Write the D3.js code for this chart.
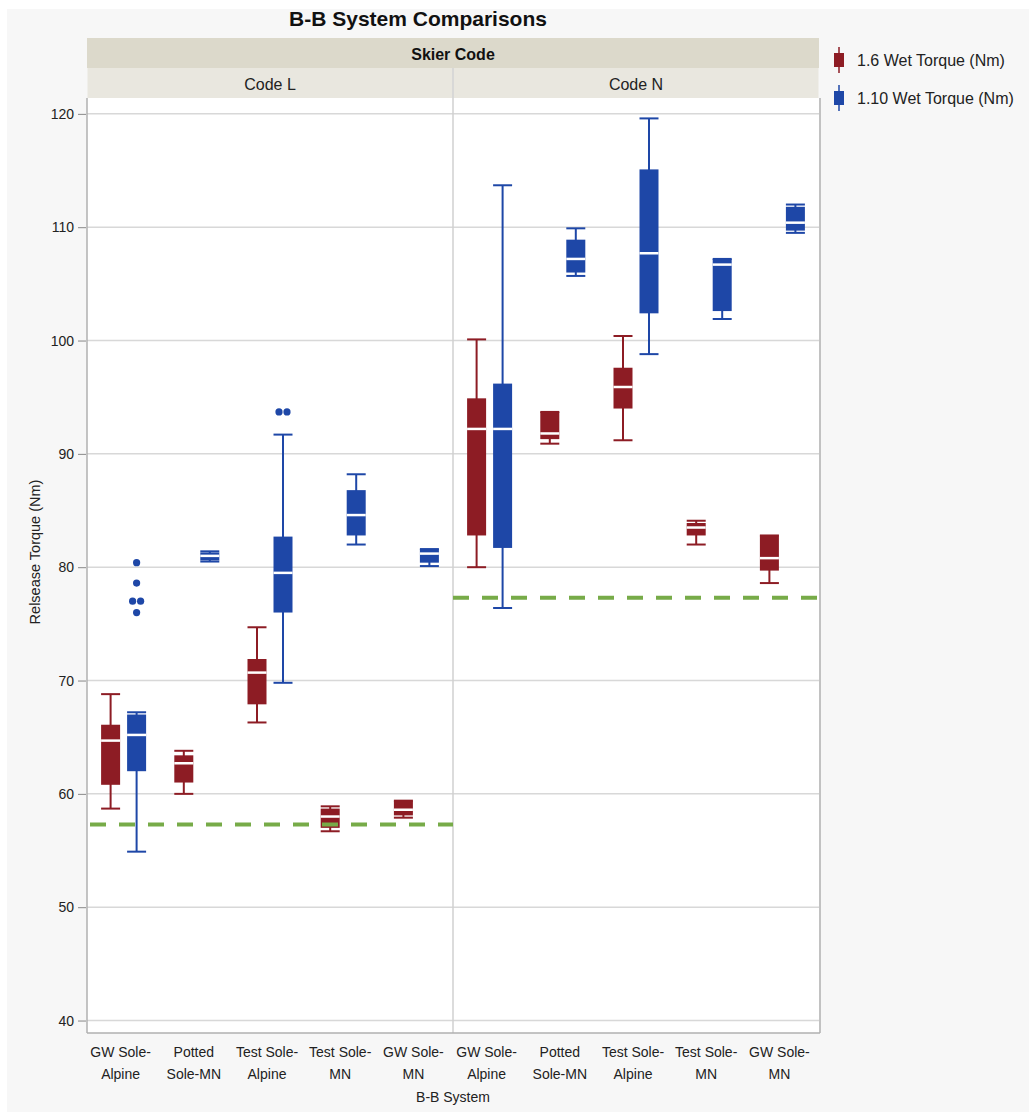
<!DOCTYPE html>
<html>
<head>
<meta charset="utf-8">
<script src="https://cdn.jsdelivr.net/npm/d3@7"></script>
<style>
  html, body { margin: 0; padding: 0; background: #ffffff; }
  svg { display: block; font-family: "Liberation Sans", Arial, sans-serif; }
</style>
</head>
<body>
<svg id="chart" width="1029" height="1113"></svg>
<script>
// panels and categories
const panels = ["Code L", "Code N"];
const categories = ["GW Sole-Alpine", "Potted Sole-MN", "Test Sole-Alpine", "Test Sole-MN", "GW Sole-MN"];
const catLines = [["GW Sole-", "Alpine"], ["Potted", "Sole-MN"], ["Test Sole-", "Alpine"], ["Test Sole-", "MN"], ["GW Sole-", "MN"]];
const series = ["1.6 Wet Torque (Nm)", "1.10 Wet Torque (Nm)"];
const colors = ["#8d1c24", "#1e47a7"];
const yTicks = [40, 50, 60, 70, 80, 90, 100, 110, 120];

// box stats: [whisker low, q1, median, q3, whisker high]
const wet16L = [
  [58.7, 60.8, 64.7, 66.1, 68.8],
  [60.0, 61.0, 62.7, 63.4, 63.8],
  [66.3, 67.9, 70.7, 71.9, 74.7],
  [56.7, 57.0, 58.0, 58.7, 58.9],
  [57.9, 58.1, 58.6, 59.4, 59.4]
];
const wet110L = [
  [54.9, 62.0, 65.2, 67.0, 67.2],
  [80.5, 80.6, 81.0, 81.3, 81.4],
  [69.8, 76.0, 79.5, 82.7, 91.7],
  [82.0, 82.8, 84.6, 86.8, 88.2],
  [80.1, 80.4, 81.2, 81.6, 81.6]
];
const wet16N = [
  [80.0, 82.8, 92.2, 94.9, 100.1],
  [90.9, 91.3, 91.8, 93.7, 93.7],
  [91.2, 94.0, 95.9, 97.6, 100.4],
  [82.0, 82.8, 83.5, 83.9, 84.1],
  [78.6, 79.7, 80.8, 82.8, 82.8]
];
const wet110N = [
  [76.4, 81.7, 92.2, 96.2, 113.7],
  [105.7, 106.0, 107.2, 108.9, 109.9],
  [98.8, 102.4, 107.7, 115.1, 119.6],
  [101.9, 102.6, 106.7, 107.2, 107.2],
  [109.5, 109.7, 110.4, 111.8, 112.0]
];
// outliers: [panel, category, series, value, jitter]
const outliers = [
  [0, 0, 1, 80.4, 0], [0, 0, 1, 78.6, 0], [0, 0, 1, 77.0, -4], [0, 0, 1, 77.0, 4], [0, 0, 1, 76.0, 0],
  [0, 2, 1, 93.7, -4], [0, 2, 1, 93.7, 4]
];
// green dashed reference per panel
const refLines = [57.3, 77.3];

const boxData = [[wet16L, wet110L], [wet16N, wet110N]];

const svg = d3.select("#chart");
const plotL = 87, plotR = 819, plotT = 98, plotB = 1033;

// gray background frame
svg.append("rect").attr("x", 7).attr("y", 9).attr("width", 1022).attr("height", 1103).attr("fill", "#f7f7f7");

const y = d3.scaleLinear().domain([38.9, 121.4]).range([plotB, plotT]);
const px = d3.scaleBand().domain(panels).range([plotL, plotR]);
const cx = d3.scaleBand().domain(categories).range([0, px.bandwidth()]);
const sx = d3.scalePoint().domain(series).range([-13, 13]);

// title
svg.append("text").attr("x", 418).attr("y", 26).attr("text-anchor", "middle")
  .attr("font-size", 21).attr("font-weight", "bold").attr("fill", "#111")
  .text("B-B System Comparisons");

// header bands
svg.append("rect").attr("x", plotL).attr("y", 38).attr("width", plotR - plotL).attr("height", 30).attr("fill", "#dcd9cb");
svg.append("text").attr("x", (plotL + plotR) / 2).attr("y", 60).attr("text-anchor", "middle")
  .attr("font-size", 16).attr("font-weight", "bold").attr("fill", "#111").text("Skier Code");
panels.forEach(p => {
  svg.append("rect").attr("x", px(p) + 0.5).attr("y", 68).attr("width", px.bandwidth() - 1).attr("height", 30).attr("fill", "#e9e7df");
  svg.append("text").attr("x", px(p) + px.bandwidth() / 2).attr("y", 90).attr("text-anchor", "middle")
    .attr("font-size", 16).attr("fill", "#222").text(p);
});

// plot area
svg.append("rect").attr("x", plotL).attr("y", plotT).attr("width", plotR - plotL).attr("height", plotB - plotT).attr("fill", "#fff");

// grid
svg.append("g").selectAll("line").data(yTicks).join("line")
  .attr("x1", plotL).attr("x2", plotR).attr("y1", d => y(d)).attr("y2", d => y(d))
  .attr("stroke", "#d8d8d8").attr("stroke-width", 1.5);

// panel divider
svg.append("line").attr("x1", px(panels[1])).attr("x2", px(panels[1])).attr("y1", 68).attr("y2", plotB)
  .attr("stroke", "#d0d0d0").attr("stroke-width", 1.5);

// frame
svg.append("line").attr("x1", plotL).attr("x2", plotL).attr("y1", plotT).attr("y2", plotB).attr("stroke", "#b0b0b0").attr("stroke-width", 1.5);
svg.append("line").attr("x1", plotR + 1).attr("x2", plotR + 1).attr("y1", plotT).attr("y2", plotB).attr("stroke", "#b0b0b0").attr("stroke-width", 1.5);
svg.append("line").attr("x1", plotL).attr("x2", plotR + 1).attr("y1", plotB).attr("y2", plotB).attr("stroke", "#b0b0b0").attr("stroke-width", 1.5);

// y axis
const yAxis = svg.append("g").attr("transform", `translate(${plotL - 1},0)`)
  .call(d3.axisLeft(y).tickValues(yTicks).tickSize(8).tickPadding(4));
yAxis.select(".domain").remove();
yAxis.selectAll(".tick line").attr("stroke", "#888");
yAxis.selectAll(".tick text").attr("font-size", 14).attr("fill", "#222")
  .attr("font-family", "Liberation Sans Narrow, Liberation Sans, sans-serif");

svg.append("text").attr("transform", "translate(40,552) rotate(-90)").attr("text-anchor", "middle")
  .attr("font-size", 14.5).attr("fill", "#222").text("Relsease Torque (Nm)");

// x labels
panels.forEach(p => {
  categories.forEach((c, i) => {
    const t = svg.append("text").attr("text-anchor", "middle")
      .attr("font-size", 14).attr("fill", "#222")
      .attr("font-family", "Liberation Sans Narrow, Liberation Sans, sans-serif");
    catLines[i].forEach((ln, k) => {
      t.append("tspan").attr("x", px(p) + cx(c) + cx.bandwidth() / 2 - 3).attr("y", 1057 + k * 22).text(ln);
    });
  });
});
svg.append("text").attr("x", 453).attr("y", 1102).attr("text-anchor", "middle")
  .attr("font-size", 14).attr("fill", "#222")
  .attr("font-family", "Liberation Sans Narrow, Liberation Sans, sans-serif").text("B-B System");

// boxes
const bw = 19;
panels.forEach((p, pi) => {
  series.forEach((s, si) => {
    const g = svg.append("g").attr("fill", colors[si]).attr("stroke", colors[si]);
    boxData[pi][si].forEach((st, ci) => {
      const xc = px(p) + cx(categories[ci]) + cx.bandwidth() / 2 + sx(s);
      const [wLo, q1, med, q3, wHi] = st;
      g.append("line").attr("x1", xc).attr("x2", xc).attr("y1", y(wHi)).attr("y2", y(wLo)).attr("stroke-width", 2);
      g.append("line").attr("x1", xc - bw / 2).attr("x2", xc + bw / 2).attr("y1", y(wHi)).attr("y2", y(wHi)).attr("stroke-width", 2);
      g.append("line").attr("x1", xc - bw / 2).attr("x2", xc + bw / 2).attr("y1", y(wLo)).attr("y2", y(wLo)).attr("stroke-width", 2);
      g.append("rect").attr("x", xc - bw / 2).attr("y", y(q3)).attr("width", bw).attr("height", Math.max(y(q1) - y(q3), 2)).attr("stroke", "none");
      g.append("line").attr("x1", xc - bw / 2).attr("x2", xc + bw / 2).attr("y1", y(med)).attr("y2", y(med))
        .attr("stroke", "#fff").attr("stroke-width", 2.5);
    });
  });
});

// outliers
svg.append("g").selectAll("circle").data(outliers).join("circle")
  .attr("cx", d => px(panels[d[0]]) + cx(categories[d[1]]) + cx.bandwidth() / 2 + sx(series[d[2]]) + d[4])
  .attr("cy", d => y(d[3])).attr("r", 3.6).attr("fill", d => colors[d[2]]);

// reference lines
panels.forEach((p, pi) => {
  svg.append("line").attr("x1", px(p) + (pi === 0 ? 3 : 0)).attr("x2", px(p) + px.bandwidth())
    .attr("y1", y(refLines[pi])).attr("y2", y(refLines[pi]))
    .attr("stroke", "#77ab48").attr("stroke-width", 4).attr("stroke-dasharray", "16,13");
});

// legend
series.forEach((s, i) => {
  const ly = 60 + i * 38;
  svg.append("line").attr("x1", 839).attr("x2", 839).attr("y1", ly - 13).attr("y2", ly + 13).attr("stroke", colors[i]).attr("stroke-width", 1.5);
  svg.append("rect").attr("x", 834).attr("y", ly - 7).attr("width", 10).attr("height", 14).attr("fill", colors[i]);
  svg.append("text").attr("x", 857).attr("y", ly + 6).attr("font-size", 16).attr("fill", "#222").text(s);
});
</script>
</body>
</html>
